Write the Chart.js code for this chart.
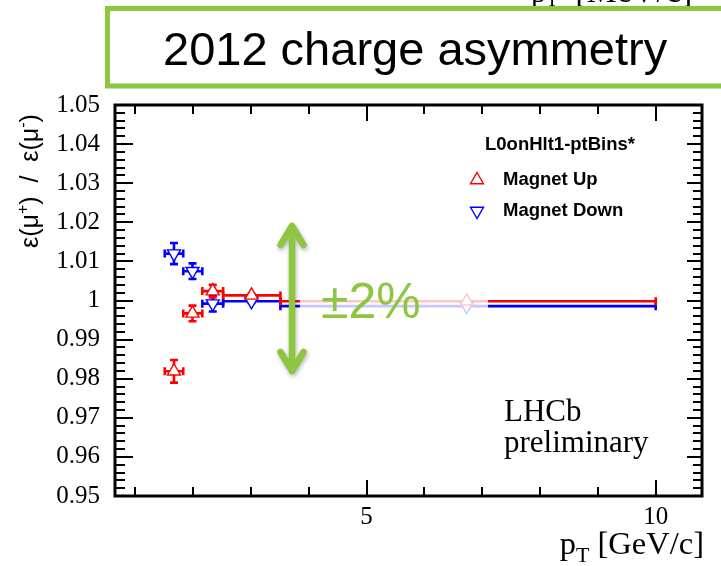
<!DOCTYPE html>
<html>
<head>
<meta charset="utf-8">
<script src="https://cdn.jsdelivr.net/npm/chart.js@4.4.1/dist/chart.umd.min.js"></script>
<style>
  html, body { margin: 0; padding: 0; background: #ffffff; }
  #wrap { width: 721px; height: 566px; position: relative; }
  canvas { display: block; }
</style>
</head>
<body>
<div id="wrap"><canvas id="c" width="721" height="566"></canvas></div>
<script>
// pT bins [GeV/c] shared by both magnet polarities
const binEdges   = [1.51, 1.83, 2.16, 2.52, 3.51, 10.0];
const binCentres = [1.67, 1.99, 2.34, 3.01, 6.73];

// efficiency ratio eps(mu+)/eps(mu-) and its uncertainty
const magUpRatio   = [0.9819, 0.9967, 1.0024, 1.0013, 0.9998];
const magUpErr     = [0.0029, 0.0020, 0.0016, 0.0004, 0.0002];
const magDownRatio = [1.0120, 1.0075, 0.9992, 0.9998, 0.99855];
const magDownErr   = [0.0027, 0.0020, 0.0020, 0.0004, 0.0002];

// axis labels
const xTickValues = [5, 10];
const yTickValues = [0.95, 0.96, 0.97, 0.98, 0.99, 1.00, 1.01, 1.02, 1.03, 1.04, 1.05];

const SERIF = '"Liberation Serif", "Times New Roman", serif';
const SANS  = '"Liberation Sans", Arial, Helvetica, sans-serif';
const GREEN = '#8dc63f';
const RED   = '#ff0000';
const BLUE  = '#0000ff';

const series = [
  { label: 'Magnet Up',   ratio: magUpRatio,   err: magUpErr,   color: RED,  rot: 0 },
  { label: 'Magnet Down', ratio: magDownRatio, err: magDownErr, color: BLUE, rot: 180 }
];

function triangle(ctx, x, y, r, rotDeg, color, lw) {
  ctx.save();
  ctx.translate(x, y);
  ctx.rotate(rotDeg * Math.PI / 180);
  ctx.beginPath();
  for (let k = 0; k < 3; k++) {
    const a = k * 2 * Math.PI / 3;
    const px = Math.sin(a) * r, py = -Math.cos(a) * r;
    if (k === 0) ctx.moveTo(px, py); else ctx.lineTo(px, py);
  }
  ctx.closePath();
  ctx.fillStyle = '#ffffff';
  ctx.fill();
  ctx.strokeStyle = color;
  ctx.lineWidth = lw;
  ctx.stroke();
  ctx.restore();
}

// text runs [{t, size, dy, family, weight}] laid out left to right on one baseline
function runsWidth(ctx, runs) {
  let w = 0;
  runs.forEach(r => {
    ctx.font = (r.weight || 'normal') + ' ' + r.size + 'px ' + r.family;
    r.w = ctx.measureText(r.t).width;
    w += r.w;
  });
  return w;
}
function drawRuns(ctx, runs, x, y) {
  ctx.textAlign = 'left';
  ctx.textBaseline = 'alphabetic';
  let cx = x;
  runs.forEach(r => {
    ctx.font = (r.weight || 'normal') + ' ' + r.size + 'px ' + r.family;
    ctx.fillText(r.t, cx, y + (r.dy || 0));
    cx += r.w;
  });
}

// error bars with end caps, drawn beneath the markers
const errorBars = {
  id: 'errorBars',
  beforeDatasetsDraw(chart) {
    const ctx = chart.ctx, xs = chart.scales.x, ys = chart.scales.y;
    const cap = 4;
    ctx.save();
    ctx.lineWidth = 2.6;
    ctx.lineCap = 'butt';
    for (let s = series.length - 1; s >= 0; s--) {
      const sr = series[s];
      ctx.strokeStyle = sr.color;
      for (let i = 0; i < binCentres.length; i++) {
        const xc = xs.getPixelForValue(binCentres[i]);
        const xl = xs.getPixelForValue(binEdges[i]);
        const xh = xs.getPixelForValue(binEdges[i + 1]);
        const yc = ys.getPixelForValue(sr.ratio[i]);
        const yl = ys.getPixelForValue(sr.ratio[i] - sr.err[i]);
        const yh = ys.getPixelForValue(sr.ratio[i] + sr.err[i]);
        ctx.beginPath();
        ctx.moveTo(xl, yc); ctx.lineTo(xh, yc);
        ctx.moveTo(xl, yc - cap); ctx.lineTo(xl, yc + cap);
        ctx.moveTo(xh, yc - cap); ctx.lineTo(xh, yc + cap);
        ctx.moveTo(xc, yl); ctx.lineTo(xc, yh);
        ctx.moveTo(xc - cap, yl); ctx.lineTo(xc + cap, yl);
        ctx.moveTo(xc - cap, yh); ctx.lineTo(xc + cap, yh);
        ctx.stroke();
      }
    }
    ctx.restore();
  }
};

// frame with inward ticks on all four sides
const frame = {
  id: 'frame',
  afterDatasetsDraw(chart) {
    const ctx = chart.ctx, a = chart.chartArea, xs = chart.scales.x, ys = chart.scales.y;
    ctx.save();
    ctx.strokeStyle = '#000';
    ctx.lineWidth = 2;
    ctx.beginPath();
    for (let k = 0; k <= 50; k++) {
      const v = 0.95 + k * 0.002;
      const y = Math.round(ys.getPixelForValue(v));
      const len = (k % 5 === 0) ? 18 : 10;
      const rlen = (k % 5 === 0) ? 15 : 9;
      ctx.moveTo(a.left, y); ctx.lineTo(a.left + len, y);
      ctx.moveTo(a.right, y); ctx.lineTo(a.right - rlen, y);
    }
    for (let v = 1; v <= 10; v++) {
      const x = Math.round(xs.getPixelForValue(v));
      const len = (v % 5 === 0) ? 16 : 9;
      ctx.moveTo(x, a.bottom); ctx.lineTo(x, a.bottom - len);
      ctx.moveTo(x, a.top); ctx.lineTo(x, a.top + len);
    }
    ctx.stroke();
    ctx.lineWidth = 3;
    ctx.strokeRect(a.left, a.top, a.right - a.left, a.bottom - a.top);
    ctx.restore();
  }
};

// legend, labels and annotations
const decorations = {
  id: 'decorations',
  afterDraw(chart) {
    const ctx = chart.ctx;
    ctx.save();

    // legend
    ctx.fillStyle = '#000';
    ctx.textBaseline = 'middle';
    ctx.textAlign = 'left';
    ctx.font = 'bold 18.5px ' + SANS;
    ctx.fillText('L0onHlt1-ptBins*', 485, 145);
    series.forEach((sr, k) => {
      const y = 180 + k * 31;
      triangle(ctx, 477, y, 7.5, sr.rot, sr.color, 1.4);
      ctx.fillStyle = '#000';
      ctx.font = 'bold 18.5px ' + SANS;
      ctx.textBaseline = 'middle';
      ctx.fillText(sr.label, 503, y);
    });

    // experiment tag
    ctx.font = '31px ' + SERIF;
    ctx.textBaseline = 'alphabetic';
    ctx.fillText('LHCb', 504, 421);
    ctx.fillText('preliminary', 504, 452);

    // y axis title
    ctx.save();
    ctx.translate(38, 181);
    ctx.rotate(-Math.PI / 2);
    ctx.fillStyle = '#000';
    const yRuns = [
      { t: 'ε(μ', size: 25, family: SANS },
      { t: '+', size: 16, family: SANS, dy: -10 },
      { t: ')  /  ε(μ', size: 25, family: SANS },
      { t: '-', size: 16, family: SANS, dy: -10 },
      { t: ')', size: 25, family: SANS }
    ];
    const yw = runsWidth(ctx, yRuns);
    drawRuns(ctx, yRuns, -yw / 2, 0);
    ctx.restore();

    // x axis title
    ctx.fillStyle = '#000';
    const xRuns = [
      { t: 'p', size: 32.5, family: SERIF },
      { t: 'T', size: 22, family: SERIF, dy: 8 },
      { t: ' [GeV/c]', size: 32.5, family: SERIF }
    ];
    const xw = runsWidth(ctx, xRuns);
    drawRuns(ctx, xRuns, 704 - xw, 554);

    // "±2%" band
    ctx.fillStyle = 'rgba(255,255,255,0.78)';
    ctx.fillRect(300, 268, 188, 64);
    ctx.fillStyle = GREEN;
    ctx.font = '50px ' + SANS;
    ctx.textBaseline = 'alphabetic';
    ctx.fillText('±2%', 321, 318);

    // double-headed arrow
    ctx.save();
    ctx.shadowColor = 'rgba(0,0,0,0.30)';
    ctx.shadowBlur = 4;
    ctx.shadowOffsetX = 1;
    ctx.shadowOffsetY = 2;
    ctx.strokeStyle = GREEN;
    ctx.lineWidth = 6.5;
    ctx.lineCap = 'round';
    ctx.lineJoin = 'round';
    ctx.beginPath();
    ctx.moveTo(292, 226); ctx.lineTo(292, 371);
    ctx.moveTo(280.5, 245); ctx.lineTo(292, 226); ctx.lineTo(303.5, 245);
    ctx.moveTo(280.5, 352); ctx.lineTo(292, 371); ctx.lineTo(303.5, 352);
    ctx.stroke();
    ctx.restore();

    // slide heading, with the axis title of a neighbouring plot peeking out above it
    ctx.fillStyle = '#000';
    const topRuns = [
      { t: 'p', size: 30, family: SERIF },
      { t: 'T', size: 20, family: SERIF, dy: 4 },
      { t: '  [MeV/c]', size: 34, family: SERIF }
    ];
    runsWidth(ctx, topRuns);
    drawRuns(ctx, topRuns, 531, 2);

    ctx.fillStyle = '#ffffff';
    ctx.strokeStyle = GREEN;
    ctx.lineWidth = 5;
    ctx.beginPath();
    ctx.rect(107.5, 8.5, 660, 77.5);
    ctx.fill();
    ctx.stroke();
    ctx.fillStyle = '#000';
    ctx.font = '47px ' + SANS;
    ctx.textBaseline = 'alphabetic';
    ctx.textAlign = 'left';
    ctx.fillText('2012 charge asymmetry', 163, 65);

    ctx.restore();
  }
};

const chart = new Chart(document.getElementById('c').getContext('2d'), {
  type: 'scatter',
  data: {
    datasets: series.map(sr => ({
      label: sr.label,
      data: binCentres.map((x, i) => ({ x: x, y: sr.ratio[i] })),
      pointStyle: 'triangle',
      rotation: sr.rot,
      pointRadius: 7.5,
      pointHoverRadius: 7.5,
      pointBorderWidth: 1.4,
      borderColor: sr.color,
      backgroundColor: '#ffffff',
      pointBackgroundColor: '#ffffff',
      showLine: false
    }))
  },
  options: {
    responsive: false,
    animation: false,
    events: [],
    devicePixelRatio: 1,
    layout: { padding: { left: 0, top: 105, right: 19, bottom: 0 } },
    plugins: { legend: { display: false }, tooltip: { enabled: false } },
    scales: {
      x: {
        type: 'linear',
        min: 0.65,
        max: 10.8,
        grid: { display: false },
        border: { display: false },
        afterBuildTicks: s => { s.ticks = xTickValues.map(v => ({ value: v })); },
        afterFit: s => { s.height = 70; },
        ticks: {
          autoSkip: false, maxRotation: 0, padding: -2, color: '#000',
          font: { family: SERIF, size: 25 },
          callback: v => String(v)
        }
      },
      y: {
        type: 'linear',
        min: 0.95,
        max: 1.05,
        grid: { display: false },
        border: { display: false },
        afterBuildTicks: s => { s.ticks = yTickValues.map(v => ({ value: v })); },
        afterFit: s => { s.width = 115; },
        ticks: {
          autoSkip: false, padding: 7, color: '#000',
          font: { family: SERIF, size: 25 },
          callback: v => String(Number(v.toFixed(2)))
        }
      }
    }
  },
  plugins: [errorBars, frame, decorations]
});
</script>
</body>
</html>
